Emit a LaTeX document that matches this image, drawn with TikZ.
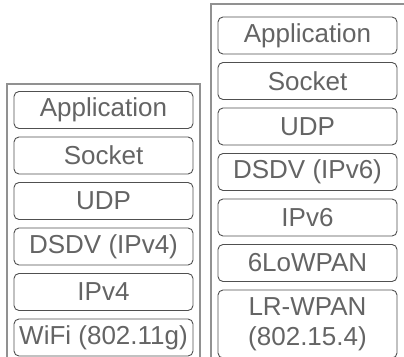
\documentclass[tikz,border=0pt]{standalone}
\usepackage{fontspec}
\setmainfont{Liberation Sans}
\usepackage{xcolor}
\usepackage{tikz}
\usetikzlibrary{positioning}
\definecolor{framegray}{RGB}{145,145,145}
\definecolor{boxgray}{RGB}{80,80,80}
\definecolor{textgray}{RGB}{100,100,100}
\tikzset{
  layerbox/.style={rectangle, rounded corners=5pt, draw=boxgray, line width=0.9pt,
    minimum width=179pt, minimum height=37pt, inner sep=0pt, align=center,
    text=textgray, font=\fontsize{26}{30}\selectfont},
  tallbox/.style={layerbox, minimum height=68pt},
  frame/.style={draw=framegray, line width=1.3pt},
}

\begin{document}
\begin{tikzpicture}[x=1pt, y=-1pt, node distance=7.6pt]
  \useasboundingbox (0,0) rectangle (404,356);
  \begin{scope}
  \clip (0,0) rectangle (404,356);
  % stack frames
  \draw[frame] (7,360) -- (7,84) -- (200,84) -- (200,360);
  \draw[frame] (211,360) -- (211,4) -- (410,4) -- (410,360);
  \end{scope}

  % IPv4 / WiFi stack
  \node[layerbox] at (103.5,110)        (appL)  {Application};
  \node[layerbox, below=of appL]        (sockL) {Socket};
  \node[layerbox, below=of sockL]       (udpL)  {UDP};
  \node[layerbox, below=of udpL]        (dsdvL) {DSDV (IPv4)};
  \node[layerbox, below=of dsdvL]       (ipL)   {IPv4};
  \node[layerbox, below=of ipL]         (macL)  {WiFi (802.11g)};

  % IPv6 / LR-WPAN stack
  \node[layerbox] at (307.5,35.5)       (appR)  {Application};
  \node[layerbox, below=of appR]        (sockR) {Socket};
  \node[layerbox, below=of sockR]       (udpR)  {UDP};
  \node[layerbox, below=of udpR]        (dsdvR) {DSDV (IPv6)};
  \node[layerbox, below=of dsdvR]       (ipR)   {IPv6};
  \node[layerbox, below=of ipR]         (lowR)  {6LoWPAN};
  \node[tallbox, below=of lowR]         (macR)  {LR-WPAN\\(802.15.4)};
\end{tikzpicture}
\end{document}
